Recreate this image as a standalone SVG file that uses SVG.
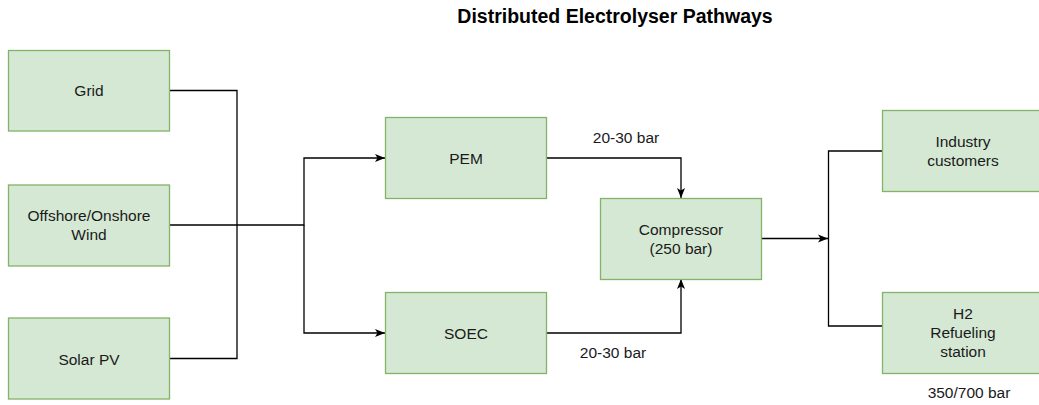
<svg xmlns="http://www.w3.org/2000/svg" width="1039" height="405" viewBox="0 0 1039 405">
<style>
.box{fill:#d5e8d4;stroke:#82b366;stroke-width:1.3}
.t{font-family:"Liberation Sans",Arial,sans-serif;font-size:15.5px;fill:#1a1a1a;text-anchor:middle}
.title{font-family:"Liberation Sans",Arial,sans-serif;font-size:19.5px;font-weight:bold;fill:#000;text-anchor:middle}
.c{fill:none;stroke:#000;stroke-width:1.3}
</style>
<defs>
<marker id="arr" viewBox="0 0 10 10" refX="10" refY="5" markerWidth="10" markerHeight="10" markerUnits="userSpaceOnUse" orient="auto">
<path d="M0,1 L10,5 L0,9 L2.5,5 Z" fill="#000"/>
</marker>
</defs>
<rect width="1039" height="405" fill="#fff"/>
<text class="title" x="615" y="23">Distributed Electrolyser Pathways</text>
<g id="connectors">
<path class="c" d="M170,90.5 H237 V225"/>
<path class="c" d="M170,358.5 H237 V225"/>
<path class="c" d="M170,225 H304 V158 H385" marker-end="url(#arr)"/>
<path class="c" d="M304,225 V333 H385" marker-end="url(#arr)"/>
<path class="c" d="M547,158 H681 V198" marker-end="url(#arr)"/>
<path class="c" d="M547,333 H681 V279" marker-end="url(#arr)"/>
<path class="c" d="M762,238.5 H828" marker-end="url(#arr)"/>
<path class="c" d="M883,151 H828.5 V326 H883"/>
<text class="t" x="626" y="142.5">20-30 bar</text>
<text class="t" x="613" y="357.5">20-30 bar</text>
</g>
<g id="grid"><rect class="box" x="8.5" y="50.5" width="161" height="80.5"/><text class="t" x="89" y="96">Grid</text></g>
<g id="wind"><rect class="box" x="8.5" y="185" width="161" height="81"/><text class="t" x="89" y="221">Offshore/Onshore</text><text class="t" x="89" y="240">Wind</text></g>
<g id="solar"><rect class="box" x="8.5" y="318" width="161" height="81"/><text class="t" x="89" y="364.5">Solar PV</text></g>
<g id="pem"><rect class="box" x="385.5" y="117.5" width="161" height="81"/><text class="t" x="466" y="163.5">PEM</text></g>
<g id="soec"><rect class="box" x="385.5" y="292.5" width="161" height="81"/><text class="t" x="466" y="338.5">SOEC</text></g>
<g id="compressor"><rect class="box" x="600.5" y="198.5" width="161" height="81"/><text class="t" x="681" y="234.5">Compressor</text><text class="t" x="681" y="253.5">(250 bar)</text></g>
<g id="industry"><rect class="box" x="882.5" y="110.5" width="161" height="81"/><text class="t" x="963" y="147">Industry</text><text class="t" x="963" y="166">customers</text></g>
<g id="h2"><rect class="box" x="882.5" y="292.5" width="161" height="81"/><text class="t" x="963" y="318.5">H2</text><text class="t" x="963" y="337.5">Refueling</text><text class="t" x="963" y="356.5">station</text></g>
<text class="t" x="969" y="398">350/700 bar</text>
</svg>
